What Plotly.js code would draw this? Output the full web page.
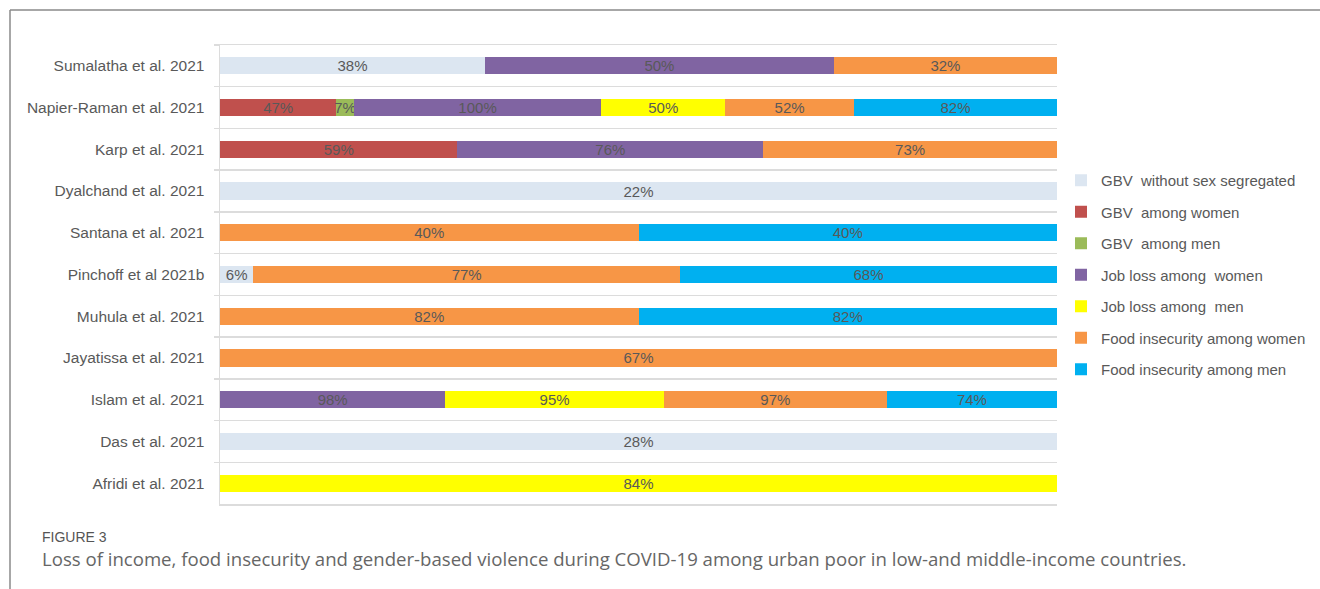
<!DOCTYPE html>
<html>
<head>
<meta charset="utf-8">
<script src="https://cdn.plot.ly/plotly-3.0.1.min.js"></script>
<style>
html,body{margin:0;padding:0;background:#fff;}
#chart{width:1320px;height:589px;}
</style>
</head>
<body>
<div id="chart"></div>
<script>
// Categories (top to bottom)
var studies = ["Sumalatha et al. 2021","Napier-Raman et al. 2021","Karp et al. 2021","Dyalchand et al. 2021","Santana et al. 2021","Pinchoff et al 2021b","Muhula et al. 2021","Jayatissa et al. 2021","Islam et al. 2021","Das et al. 2021","Afridi et al. 2021"];

// Series values (percent reported by each study; null = not reported)
var gbvNoSex      = [38, null, null, 22, null, 6, null, null, null, 28, null];
var gbvWomen      = [null, 47, 59, null, null, null, null, null, null, null, null];
var gbvMen        = [null, 7, null, null, null, null, null, null, null, null, null];
var jobLossWomen  = [50, 100, 76, null, null, null, null, null, 98, null, null];
var jobLossMen    = [null, 50, null, null, null, null, null, null, 95, null, 84];
var foodInsWomen  = [32, 52, 73, null, 40, 77, 82, 67, 97, null, null];
var foodInsMen    = [null, 82, null, null, 40, 68, 82, null, 74, null, null];

var seriesNames = ["GBV  without sex segregated","GBV  among women","GBV  among men","Job loss among  women","Job loss among  men","Food insecurity among women","Food insecurity among men"];
var seriesData = [gbvNoSex, gbvWomen, gbvMen, jobLossWomen, jobLossMen, foodInsWomen, foodInsMen];
var seriesColors = ["#dce6f1","#c0504d","#9bbb59","#8064a2","#ffff00","#f79646","#00b0f0"];

var FONT = 'Liberation Sans, Arial, sans-serif';

var traces = seriesData.map(function(vals, i){
  return {
    type: 'bar',
    orientation: 'h',
    name: seriesNames[i],
    y: studies,
    x: vals,
    text: vals.map(function(v){ return v === null ? '' : v + '%'; }),
    textposition: 'inside',
    insidetextanchor: 'middle',
    constraintext: 'none',
    textfont: {family: FONT, size: 15, color: '#595959'},
    marker: {color: seriesColors[i], line: {width: 0}},
    legendgroup: 'g' + i,
    hoverinfo: 'name+text'
  };
});

var P = {l:220, r:263, t:45, b:85, W:1320, H:589};
var pw = P.W - P.l - P.r, ph = P.H - P.t - P.b;
function px(x){ return (x - P.l) / pw; }
function py(y){ return (P.H - P.b - y) / ph; }

var layout = {
  width: P.W, height: P.H,
  margin: {l:P.l, r:P.r, t:P.t, b:P.b, pad:0, autoexpand:false},
  paper_bgcolor: '#ffffff',
  plot_bgcolor: '#ffffff',
  barmode: 'stack',
  barnorm: 'percent',
  bargap: 0.59,
  showlegend: true,
  uniformtext: {mode: 'show', minsize: 15},
  font: {family: FONT, size: 15, color: '#595959'},
  xaxis: {
    range: [0, 100], showticklabels: false, ticks: '', showgrid: false, zeroline: false,
    showline: true, mirror: true, linecolor: '#dcdcdc', linewidth: 1.5, fixedrange: true
  },
  yaxis: {
    type: 'category',
    autorange: 'reversed',
    tickson: 'boundaries',
    showgrid: true, gridcolor: '#dcdcdc', gridwidth: 1.5,
    showline: true, linecolor: '#dcdcdc', linewidth: 1.5,
    ticks: 'outside', ticklen: 5, tickcolor: '#dcdcdc', tickwidth: 1.5,
    ticklabelstandoff: 11,
    tickfont: {family: FONT, size: 15.5, color: '#595959'},
    zeroline: false, fixedrange: true
  },
  legend: {
    x: px(1061), xanchor: 'left',
    y: py(164), yanchor: 'top',
    traceorder: 'grouped',
    tracegroupgap: 9,
    itemwidth: 30,
    font: {family: FONT, size: 15, color: '#595959'},
    bgcolor: 'rgba(0,0,0,0)'
  },
  shapes: [
    {type:'line', xref:'paper', yref:'paper', x0:px(10), x1:px(1320), y0:py(10), y1:py(10), line:{color:'#8a8a8a', width:1.5}},
    {type:'line', xref:'paper', yref:'paper', x0:px(10), x1:px(10), y0:py(10), y1:py(589), line:{color:'#8a8a8a', width:1.5}}
  ],
  annotations: [
    {xref:'paper', yref:'paper', x:px(40), y:py(537), xanchor:'left', yanchor:'middle', showarrow:false,
     text:'FIGURE 3', font:{family:FONT, size:14, color:'#555555'}},
    {xref:'paper', yref:'paper', x:px(40), y:py(558), xanchor:'left', yanchor:'middle', showarrow:false,
     text:'Loss of income, food insecurity and gender-based violence during COVID-19 among urban poor in low-and middle-income countries.',
     font:{family:'Open Sans, Liberation Sans, sans-serif', size:18.6, color:'#666666'}}
  ]
};

Plotly.newPlot('chart', traces, layout, {displayModeBar: false, staticPlot: true});
</script>
</body>
</html>
